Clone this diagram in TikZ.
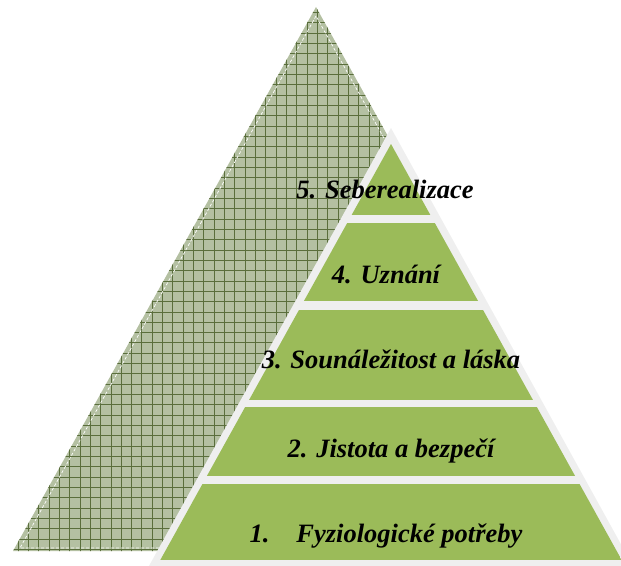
\documentclass[tikz,border=0pt]{standalone}
\usepackage{fontspec}
\setmainfont{Liberation Serif}
\usepackage{xcolor}

\definecolor{layergreen}{HTML}{9BBB59}
\definecolor{gridfill}{HTML}{B4C0A2}
\definecolor{gridline}{HTML}{5A6E3C}
\definecolor{rimgrey}{HTML}{EFEFEF}

\tikzset{
  level/.style={font=\fontsize{26.5}{30}\selectfont\bfseries\itshape,
    anchor=base, inner sep=0pt},
  gridrule/.style={gridline, line width=0.8pt},
}

\begin{document}
\begin{tikzpicture}[x=1pt,y=-1pt]
  \useasboundingbox (0,0) rectangle (621,565);

  % zadni trojuhelnik s mrizkou
  \coordinate (bt) at (316,7);
  \coordinate (bl) at (13,551);
  \coordinate (br) at (619,551);
  \fill[gridfill] (bt) -- (bl) -- (br) -- cycle;
  \begin{scope}
    \clip (bt) -- (bl) -- (br) -- cycle;
    \foreach \i in {0,...,60} {
      \draw[gridrule] (7.6+10.33*\i,0) -- (7.6+10.33*\i,565);
      \draw[gridrule] (0,2+10.33*\i) -- (621,2+10.33*\i);
    }
  \end{scope}
  \draw[white, dash pattern=on 3pt off 2pt, line width=0.7pt]
    (316,16) -- (20,548) -- (612,548) -- cycle;

  % pyramida - sedy okraj
  \fill[rimgrey] (391,128) -- (144,575) -- (638,575) -- cycle;

  % pyramida - zelena patra
  \begin{scope}
    \clip (391,144) -- (160.3,560) -- (621.7,560) -- cycle;
    \foreach \ya/\yb in {144/215, 223/301, 310/400, 407/476, 484/560}
      \fill[layergreen] (0,\ya) rectangle (621,\yb);
  \end{scope}

  % popisky
  \node[level] (l5) at (385,198) {5. Seberealizace};
  \node[level] (l4) at (386,283) {4. Uznání};
  \node[level] (l3) at (391,368) {3. Sounáležitost a láska};
  \node[level] (l2) at (391,457) {2. Jistota a bezpečí};
  \node[level] (l1) at (386,542) {1.\hspace{27pt}Fyziologické potřeby};
\end{tikzpicture}
\end{document}
